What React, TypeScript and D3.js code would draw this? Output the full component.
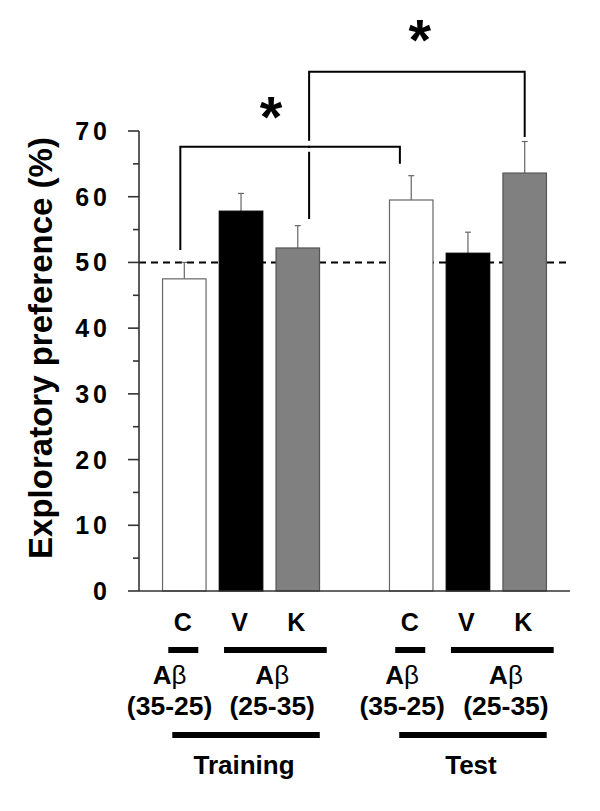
import React from "react";
import * as d3 from "d3";

const phases = ["Training", "Test"];
const conditions = ["C", "V", "K", "C", "V", "K"];
const slots = [0, 1, 2, 4, 5, 6];
const means = [47.5, 57.8, 52.2, 59.5, 51.4, 63.6];
const errors = [2.5, 2.7, 3.4, 3.7, 3.2, 4.8];
const fills = ["#ffffff", "#000000", "#808080", "#ffffff", "#000000", "#808080"];
const strokes = ["#666666", "#000000", "#555555", "#666666", "#000000", "#555555"];
const yTicks = [0, 10, 20, 30, 40, 50, 60, 70];
const yMinorTicks = [5, 15, 25, 35, 45, 55, 65];
const chanceLevel = 50;
// brackets: [leftSlot, rightSlot] and [topValue, leftLegBottom, rightLegBottom]
const bracketSlots = [
  [-0.07, 3.8],
  [2.2, 6],
];
const bracketValues = [
  [67.6, 51.9, 65.0],
  [79.0, 56.6, 69.1],
];
const starValues = [73.2, 84.8];
const starSlots = [1.53, 4.15];
const peptideGroups = [
  { label: "(35-25)", from: 0, to: 0, centerSlot: -0.26 },
  { label: "(25-35)", from: 1, to: 2, centerSlot: 1.55 },
  { label: "(35-25)", from: 4, to: 4, centerSlot: 3.84 },
  { label: "(25-35)", from: 5, to: 6, centerSlot: 5.67 },
];

const W = 600;
const H = 811;
const FONT = "'Liberation Sans', Arial, Helvetica, sans-serif";

export default function App() {
  const y = d3.scaleLinear().domain([0, 70]).range([591, 131]);
  const x = d3.scaleLinear().domain([0, 6]).range([184.3, 524.7]);
  const barW = 43.5;
  const axisX = 139;
  const axisRight = 570;

  return (
    <svg
      width={W}
      height={H}
      viewBox={`0 0 ${W} ${H}`}
      style={{ position: "absolute", left: 0, top: 0, background: "#fff" }}
      fontFamily={FONT}
    >
      {/* Y axis label */}
      <text
        transform={`translate(52, 348) rotate(-90)`}
        textAnchor="middle"
        fontSize={33}
        fontWeight="bold"
        fill="#000"
      >
        Exploratory preference (%)
      </text>

      {/* Dashed chance line */}
      <line
        x1={axisX}
        x2={567}
        y1={y(chanceLevel)}
        y2={y(chanceLevel)}
        stroke="#000"
        strokeWidth={2}
        strokeDasharray="7,5"
      />

      {/* Bars */}
      {means.map((m, i) => (
        <g key={i}>
          <line
            x1={x(slots[i])}
            x2={x(slots[i])}
            y1={y(m)}
            y2={y(m + errors[i])}
            stroke="#666"
            strokeWidth={1.2}
          />
          <line
            x1={x(slots[i]) - 3}
            x2={x(slots[i]) + 3}
            y1={y(m + errors[i])}
            y2={y(m + errors[i])}
            stroke="#666"
            strokeWidth={1.2}
          />
          <rect
            x={x(slots[i]) - barW / 2}
            y={y(m)}
            width={barW}
            height={y(0) - y(m)}
            fill={fills[i]}
            stroke={strokes[i]}
            strokeWidth={1.2}
          />
        </g>
      ))}

      {/* Axes */}
      <line x1={axisX} x2={axisX} y1={y(70)} y2={y(0)} stroke="#333" strokeWidth={1.6} />
      <line x1={axisX} x2={axisRight} y1={y(0)} y2={y(0)} stroke="#333" strokeWidth={1.6} />
      {yTicks.map((t) => (
        <g key={t}>
          <line x1={axisX - 11} x2={axisX} y1={y(t)} y2={y(t)} stroke="#333" strokeWidth={1.6} />
          <text
            x={111}
            y={y(t)}
            dy="0.36em"
            textAnchor="end"
            fontSize={25}
            fontWeight="bold"
            letterSpacing={4}
            fill="#000"
          >
            {t}
          </text>
        </g>
      ))}
      {yMinorTicks.map((t) => (
        <line key={t} x1={axisX - 6} x2={axisX} y1={y(t)} y2={y(t)} stroke="#333" strokeWidth={1.6} />
      ))}

      {/* Brackets */}
      {bracketSlots.map((s, i) => {
        const [top, lb, rb] = bracketValues[i];
        const x1 = x(s[0]);
        const x2 = x(s[1]);
        return (
          <path
            key={i}
            d={`M${x1},${y(lb)}V${y(top)}H${x2}V${y(rb)}`}
            fill="none"
            stroke="#000"
            strokeWidth={2}
          />
        );
      })}
      {/* gap where the higher bracket crosses the lower one */}
      <line
        x1={x(bracketSlots[1][0])}
        x2={x(bracketSlots[1][0])}
        y1={y(bracketValues[0][0]) - 6}
        y2={y(bracketValues[0][0]) - 1.2}
        stroke="#fff"
        strokeWidth={3}
      />
      <line
        x1={x(bracketSlots[1][0])}
        x2={x(bracketSlots[1][0])}
        y1={y(bracketValues[0][0]) + 1.2}
        y2={y(bracketValues[0][0]) + 5}
        stroke="#fff"
        strokeWidth={3}
      />
      {starValues.map((v, i) => (
        <text
          key={i}
          x={x(starSlots[i])}
          y={y(v)}
          dy="0.46em"
          textAnchor="middle"
          fontSize={58}
          fontWeight="bold"
          fill="#000"
        >
          *
        </text>
      ))}

      {/* Condition labels */}
      {conditions.map((c, i) => (
        <text
          key={i}
          x={x(slots[i]) - 1.5}
          y={631}
          textAnchor="middle"
          fontSize={25}
          fontWeight="bold"
          fill="#000"
        >
          {c}
        </text>
      ))}

      {/* Peptide group underlines and labels */}
      {peptideGroups.map((g, i) => {
        const single = g.from === g.to;
        const x1 = single ? x(g.from) - 16 : x(g.from) - 17;
        const x2 = single ? x(g.to) + 14 : x(g.to) + 29;
        const cx = x(g.centerSlot);
        return (
          <g key={i}>
            <line x1={x1} x2={x2} y1={650} y2={650} stroke="#000" strokeWidth={6} />
            <text x={cx} y={683.5} textAnchor="middle" fontSize={26} fontWeight="bold" fill="#000">
              A<tspan fontWeight="normal">β</tspan>
            </text>
            <text x={cx} y={715} textAnchor="middle" fontSize={26.5} fontWeight="bold" fill="#000">
              {g.label}
            </text>
          </g>
        );
      })}

      {/* Phase lines and labels */}
      {phases.map((p, i) => {
        const first = slots[i * 3];
        const last = slots[i * 3 + 2];
        const x1 = x(first) - 12;
        const x2 = x(last) + 22;
        return (
          <g key={p}>
            <line x1={x1} x2={x2} y1={735} y2={735} stroke="#000" strokeWidth={6} />
            <text
              x={(x1 + x2) / 2 - 2}
              y={774}
              textAnchor="middle"
              fontSize={26}
              fontWeight="bold"
              fill="#000"
            >
              {p}
            </text>
          </g>
        );
      })}
    </svg>
  );
}
